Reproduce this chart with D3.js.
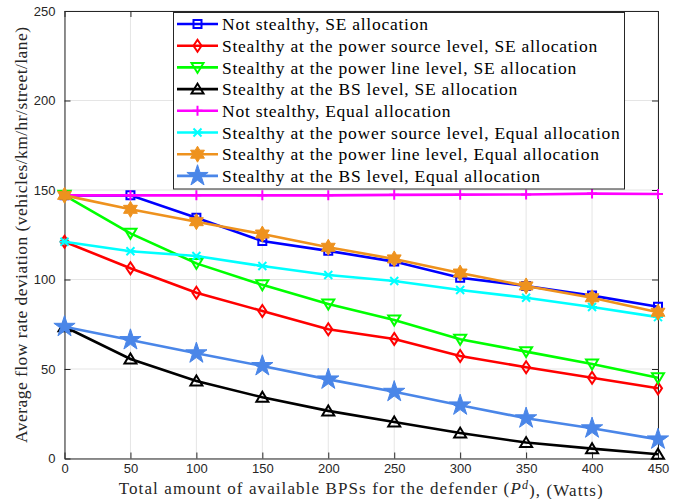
<!DOCTYPE html>
<html>
<head>
<meta charset="utf-8">
<script src="https://cdn.jsdelivr.net/npm/d3@7"></script>
<style>
  html, body { margin: 0; padding: 0; background: #fff; }
  svg { display: block; }
</style>
</head>
<body>
<svg id="chart" width="681" height="499"></svg>
<script>
// Available BPS budget for the defender (Watts)
const budgets = [0, 50, 100, 150, 200, 250, 300, 350, 400, 450];

// Average flow rate deviation for each scenario
const notStealthySE     = [147, 147, 134.5, 121.5, 116, 110, 101, 96.4, 91, 84.8];
const stealthySourceSE  = [121.1, 106.3, 92.6, 82.4, 72.2, 66.8, 57.3, 51, 45.1, 39.2];
const stealthyLineSE    = [147, 125.8, 109, 97, 86.3, 77.4, 66.6, 59.7, 52.8, 45.1];
const stealthyBSSE      = [73.6, 55.6, 43.3, 34.2, 26.6, 20.4, 14.2, 8.9, 5.5, 2.4];
const notStealthyEq     = [147, 147, 147, 147, 147, 147.3, 147.4, 147.5, 148, 147.8];
const stealthySourceEq  = [121.1, 115.8, 113.1, 107.5, 102.5, 99.2, 94.1, 89.8, 84.6, 79];
const stealthyLineEq    = [147, 139.2, 132.3, 125.4, 118, 111.5, 103.6, 96.4, 89.8, 81.7];
const stealthyBSEq      = [73.6, 66.2, 58.8, 51.7, 44.2, 37.3, 29.7, 22.5, 16.9, 10.7];

const seriesNames = [
  "Not stealthy, SE allocation",
  "Stealthy at the power source level, SE allocation",
  "Stealthy at the power line level, SE allocation",
  "Stealthy at the BS level, SE allocation",
  "Not stealthy, Equal allocation",
  "Stealthy at the power source level, Equal allocation",
  "Stealthy at the power line level, Equal allocation",
  "Stealthy at the BS level, Equal allocation"
];
const seriesValues = [notStealthySE, stealthySourceSE, stealthyLineSE, stealthyBSSE,
                      notStealthyEq, stealthySourceEq, stealthyLineEq, stealthyBSEq];
const seriesColors = ["#0000ff", "#ff0000", "#00ff00", "#000000",
                      "#ff00ff", "#00ffff", "#ee921e", "#4a86e8"];
const seriesMarkers = ["square", "diamond", "triDown", "triUp", "plus", "cross", "hexagram", "pentagram"];

const xTicks = [0, 50, 100, 150, 200, 250, 300, 350, 400, 450];
const yTicks = [0, 50, 100, 150, 200, 250];

const svg = d3.select("#chart");
const plot = { left: 64.5, right: 658, top: 11, bottom: 458.5 };

const x = d3.scaleLinear().domain([0, 450]).range([plot.left, plot.right]);
const y = d3.scaleLinear().domain([0, 250]).range([plot.bottom, plot.top]);

// grid
const grid = svg.append("g");
grid.selectAll("line.gx").data(xTicks).join("line")
  .attr("x1", d => x(d)).attr("x2", d => x(d))
  .attr("y1", plot.top).attr("y2", plot.bottom)
  .attr("stroke", "#e5e5e5").attr("stroke-width", 1);
grid.selectAll("line.gy").data(yTicks).join("line")
  .attr("x1", plot.left).attr("x2", plot.right)
  .attr("y1", d => y(d)).attr("y2", d => y(d))
  .attr("stroke", "#e5e5e5").attr("stroke-width", 1);

// axes (ticks pointing inward, box around the plot)
const axisColor = "#262626";
const tickFont = "'Liberation Sans', Arial, sans-serif";

const xAxis = svg.append("g").attr("transform", `translate(0,${plot.bottom})`)
  .call(d3.axisBottom(x).tickValues(xTicks).tickSizeInner(-6).tickSizeOuter(0).tickPadding(5));
const yAxis = svg.append("g").attr("transform", `translate(${plot.left},0)`)
  .call(d3.axisLeft(y).tickValues(yTicks).tickSizeInner(-6).tickSizeOuter(0).tickPadding(9));
const xTop = svg.append("g").attr("transform", `translate(0,${plot.top})`)
  .call(d3.axisTop(x).tickValues(xTicks).tickSizeInner(-6).tickSizeOuter(0).tickFormat(""));
const yRight = svg.append("g").attr("transform", `translate(${plot.right},0)`)
  .call(d3.axisRight(y).tickValues(yTicks).tickSizeInner(-6).tickSizeOuter(0).tickFormat(""));

[xAxis, yAxis, xTop, yRight].forEach(g => {
  g.select(".domain").attr("stroke", axisColor).attr("stroke-width", 1);
  g.selectAll(".tick line").attr("stroke", axisColor).attr("stroke-width", 1);
  g.selectAll(".tick text").attr("fill", axisColor)
    .style("font-family", tickFont).style("font-size", "13px");
});

// marker shapes
const star5 = d3.symbol().type(d3.symbolStar).size(140);
function markerPath(kind) {
  switch (kind) {
    case "square":   return "M-4,-4H4V4H-4Z";
    case "diamond":  return "M0,-6L4,0L0,6L-4,0Z";
    case "triDown":  return "M-6,-4.5L6,-4.5L0,5.5Z";
    case "triUp":    return "M-6,4.5L6,4.5L0,-5.5Z";
    case "plus":     return "M-5,0H5M0,-5V5";
    case "cross":    return "M-4,-4L4,4M-4,4L4,-4M-5,0H5";
    case "hexagram": {
      const pts = [];
      for (let i = 0; i < 12; i++) {
        const r = i % 2 === 0 ? 8 : 4.6;
        const a = -Math.PI / 2 + i * Math.PI / 6;
        pts.push([r * Math.cos(a), r * Math.sin(a)]);
      }
      return "M" + pts.map(p => p.join(",")).join("L") + "Z";
    }
    case "pentagram": return star5();
  }
}
const filledMarkers = new Set(["hexagram", "pentagram"]);

function drawMarker(g, kind, color, cx, cy) {
  const p = g.append("path").attr("d", markerPath(kind))
    .attr("transform", `translate(${cx},${cy})`)
    .attr("stroke", color).attr("stroke-width", 2)
    .attr("stroke-linejoin", "miter");
  if (filledMarkers.has(kind)) p.attr("fill", color).attr("stroke-width", 1);
  else p.attr("fill", "none");
}

const line = d3.line().x((d, i) => x(budgets[i])).y(d => y(d));

const series = svg.append("g");
seriesValues.forEach((vals, k) => {
  const g = series.append("g");
  g.append("path").datum(vals).attr("d", line)
    .attr("fill", "none").attr("stroke", seriesColors[k]).attr("stroke-width", 2.6);
  vals.forEach((v, i) => drawMarker(g, seriesMarkers[k], seriesColors[k], x(budgets[i]), y(v)));
});

// legend
const legendFont = "'Liberation Serif', 'DejaVu Serif', serif";
const lg = svg.append("g");
lg.append("rect").attr("x", 173.5).attr("y", 12.5).attr("width", 451).attr("height", 176.5)
  .attr("fill", "#fff").attr("stroke", axisColor).attr("stroke-width", 1);
seriesNames.forEach((name, k) => {
  const cy = 24 + k * 21.7;
  lg.append("line").attr("x1", 177).attr("x2", 218).attr("y1", cy).attr("y2", cy)
    .attr("stroke", seriesColors[k]).attr("stroke-width", 2.6);
  drawMarker(lg, seriesMarkers[k], seriesColors[k], 197.5, cy);
  lg.append("text").attr("x", 222).attr("y", cy).attr("dy", "0.35em")
    .style("font-family", legendFont).style("font-size", "17.5px")
    .style("letter-spacing", "0.75px").attr("fill", "#000")
    .text(name);
});

// axis titles
const xLabel = svg.append("text")
  .attr("x", (plot.left + plot.right) / 2).attr("y", 494)
  .attr("text-anchor", "middle")
  .style("font-family", legendFont).style("font-size", "17px")
  .style("letter-spacing", "1.1px").attr("fill", "#262626");
xLabel.append("tspan").text("Total amount of available BPSs for the defender (");
xLabel.append("tspan").style("font-style", "italic").text("P");
xLabel.append("tspan").attr("dy", "-0.45em").style("font-size", "12px").style("font-style", "italic").text("d");
xLabel.append("tspan").attr("dy", "0.45em").text("), (Watts)");

svg.append("text")
  .attr("transform", `translate(27,${(plot.top + plot.bottom) / 2}) rotate(-90)`)
  .attr("text-anchor", "middle")
  .style("font-family", legendFont).style("font-size", "17.5px")
  .style("letter-spacing", "0.45px").attr("fill", "#262626")
  .text("Average flow rate deviation (vehicles/km/hr/street/lane)");
</script>
</body>
</html>
